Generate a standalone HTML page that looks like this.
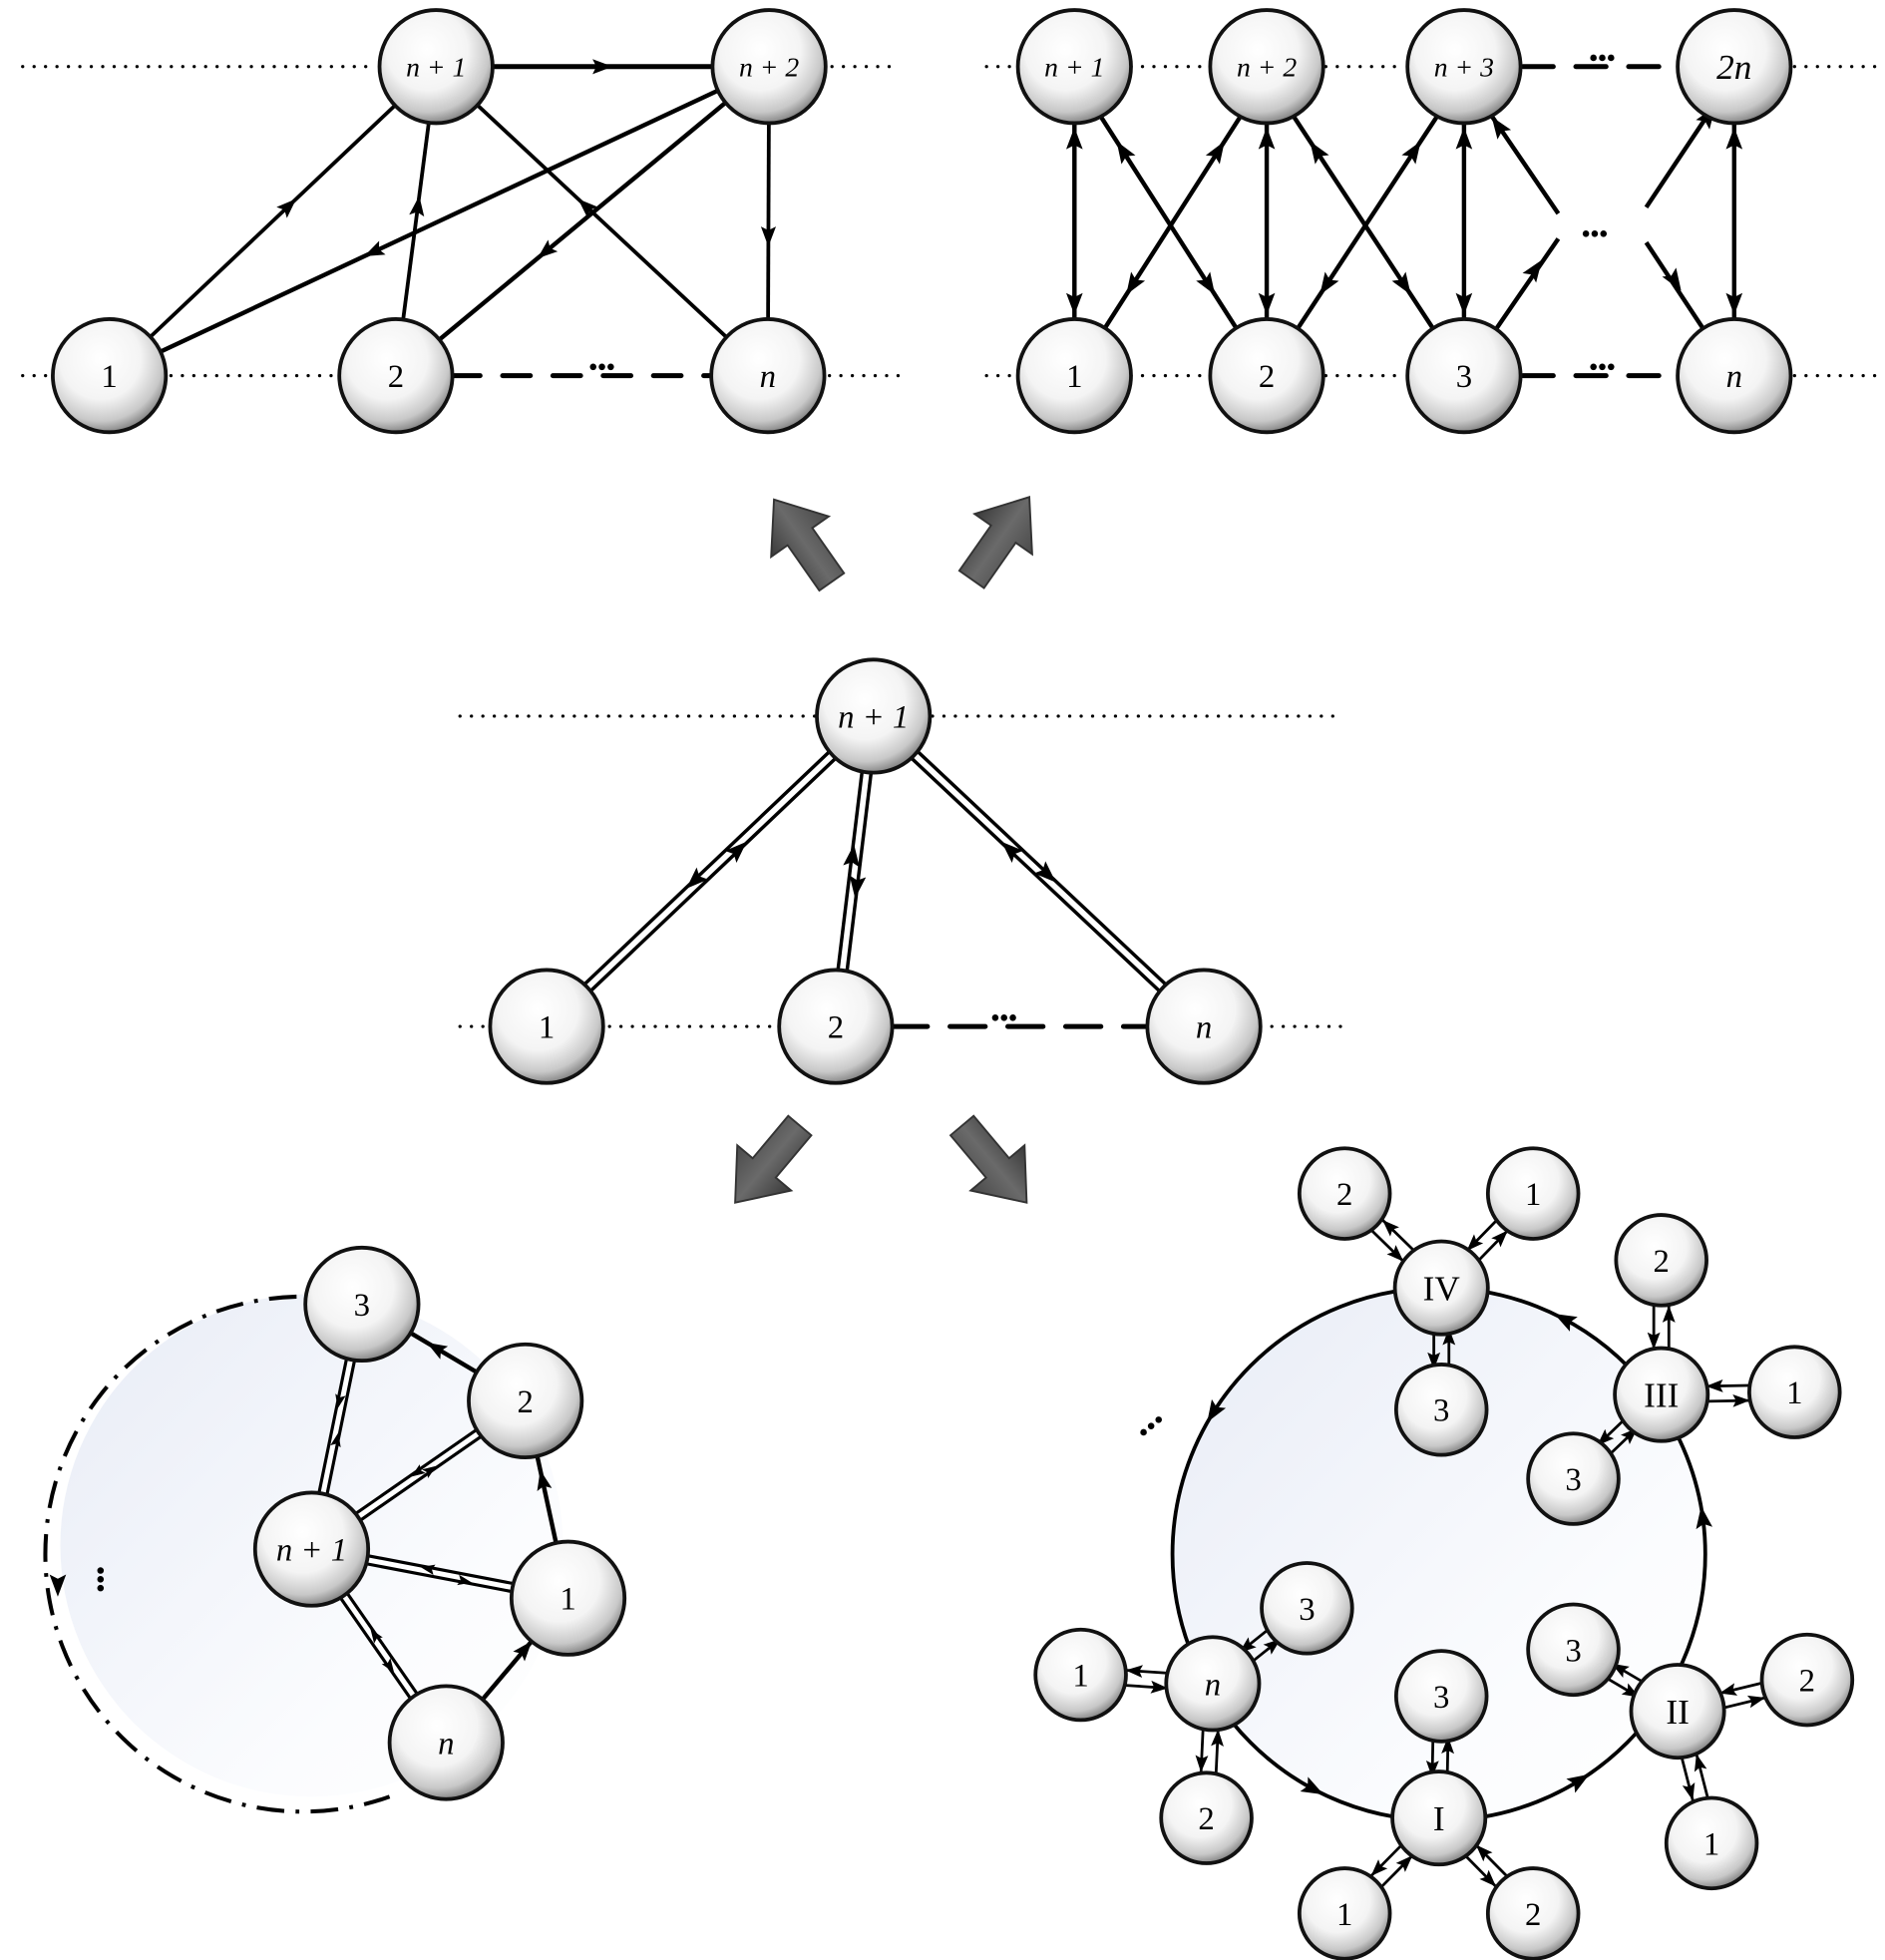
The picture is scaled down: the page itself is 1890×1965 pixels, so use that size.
<!DOCTYPE html>
<html><head><meta charset="utf-8"><style>
html,body{margin:0;padding:0;background:#fff;}
svg{display:block;}
text{font-family:"Liberation Serif",serif;}
</style></head><body>
<svg id="s" xmlns="http://www.w3.org/2000/svg" width="1890" height="1965" viewBox="0 0 1500 1560" preserveAspectRatio="none">
<defs>
<radialGradient id="ng" cx="0.42" cy="0.35" r="0.65">
<stop offset="0" stop-color="#ffffff"/><stop offset="0.55" stop-color="#f4f4f4"/><stop offset="0.85" stop-color="#c8c8c8"/><stop offset="1" stop-color="#8a8a8a"/>
</radialGradient>
<linearGradient id="bg" x1="0" y1="0" x2="1" y2="1">
<stop offset="0" stop-color="#e8ecf6"/><stop offset="0.7" stop-color="#fbfcfe"/><stop offset="1" stop-color="#ffffff"/>
</linearGradient>
<linearGradient id="fa" x1="0" y1="0" x2="1" y2="0">
<stop offset="0" stop-color="#3a3a3a"/><stop offset="0.5" stop-color="#6a6a6a"/><stop offset="1" stop-color="#4a4a4a"/>
</linearGradient>
</defs>
<g id="bgl"></g><g id="edges"></g><g id="nodes"></g>
</svg>
<script>
var NS="http://www.w3.org/2000/svg";
var E=document.getElementById('edges'),N=document.getElementById('nodes'),B=document.getElementById('bgl');
function el(p,t,a){var e=document.createElementNS(NS,t);for(var k in a)e.setAttribute(k,a[k]);p.appendChild(e);return e;}
function line(x1,y1,x2,y2,w,dash,g){return el(g||E,'line',{x1:x1,y1:y1,x2:x2,y2:y2,stroke:'#000','stroke-width':w||3,'stroke-dasharray':dash||'none','stroke-linecap':dash?'round':'butt'});}
function dots(x1,y,x2){line(x1,y,x2,y,2.5,'0.1 9');}
function head(x,y,ang,s,g){s=s||1;var L=16*s,W=6*s;el(g||E,'polygon',{points:(L/2)+',0 '+(-L/2)+','+(-W)+' '+(-L/2+3*s)+',0 '+(-L/2)+','+W,fill:'#000',transform:'translate('+x+','+y+') rotate('+ang+')'});}
function arr(x1,y1,x2,y2,t,w,s){line(x1,y1,x2,y2,w);var a=Math.atan2(y2-y1,x2-x1)*180/Math.PI;head(x1+(x2-x1)*t,y1+(y2-y1)*t,a,s);}
function node(x,y,r,lab,it,fs){el(N,'circle',{cx:x,cy:y,r:r,fill:'url(#ng)',stroke:'#111','stroke-width':3});var t=el(N,'text',{x:x,y:y+fs*0.35,'text-anchor':'middle','font-size':fs,'font-style':it?'italic':'normal'});t.textContent=lab;}
function ell(x,y){for(var i=0;i<3;i++)el(E,'circle',{cx:x+i*7,cy:y,r:2.6,fill:'#000'});}
function vell(x,y){for(var i=0;i<3;i++)el(E,'circle',{cx:x,cy:y+i*7,r:2.6,fill:'#000'});}
function dbl(x1,y1,x2,y2,off,t1,t2,s){var dx=x2-x1,dy=y2-y1,l=Math.hypot(dx,dy),nx=-dy/l*off,ny=dx/l*off;
arr(x1+nx,y1+ny,x2+nx,y2+ny,t1,2.2,s);arr(x2-nx,y2-ny,x1-nx,y1-ny,t2,2.2,s);}
function fat(x,y,ang){el(E,'polygon',{points:'0,-42 28,-6 12,-6 12,38 -12,38 -12,-6 -28,-6',fill:'url(#fa)',stroke:'#333','stroke-width':1.5,transform:'translate('+x+','+y+') rotate('+ang+')'});}
function dline(x1,y1,x2,y2,w1,w2){line(x1,y1,x2,y2,w1||10);line(x1,y1,x2,y2,w2||4.5).setAttribute('stroke','#fff');}
// heads on double line: first toward (x2,y2) at t1 on + side, second toward (x1,y1) at t2 on - side
function dheads(x1,y1,x2,y2,t1,t2,off,s){var dx=x2-x1,dy=y2-y1,l=Math.hypot(dx,dy),nx=-dy/l*off,ny=dx/l*off,a=Math.atan2(dy,dx)*180/Math.PI;
head(x1+dx*t1+nx,y1+dy*t1+ny,a,s);head(x1+dx*t2-nx,y1+dy*t2-ny,a+180,s);}

// ===== top-left =====
dots(18,53,300);dots(662,53,715);dots(18,299,42);dots(136,299,270);dots(660,299,722);
line(360,299,565,299,4,'22 18');ell(472,292);
arr(347,53,612,53,0.5,4);
arr(87,299,347,53,0.55,3);
arr(612,53,87,299,0.6,3.5);
arr(315,299,347,53,0.55,3);
arr(612,53,315,299,0.6,3.5);
arr(611,299,347,53,0.55,3);
arr(612,53,611,299,0.55,3);
node(347,53,45,'n + 1',true,22);node(612,53,45,'n + 2',true,22);
node(87,299,45,'1',false,26);node(315,299,45,'2',false,26);node(611,299,45,'n',true,26);

// ===== top-right =====
dots(785,53,810);dots(900,53,962);dots(1055,53,1118);dots(1428,53,1495);
dots(785,299,810);dots(900,299,962);dots(1055,299,1118);dots(1428,299,1495);
line(1212,53,1335,53,4,'24 18');ell(1268,46);
line(1212,299,1335,299,4,'24 18');ell(1268,292);
var T=[855,1008,1165,1380];
[0,1,2,3].forEach(function(i){var x=T[i];line(x,98,x,254,3.5);head(x,110,-90,1.1);head(x,242,90,1.1);});
function cross(x1,y1,x2,y2){line(x1,y1,x2,y2,3.5);var a=Math.atan2(y2-y1,x2-x1)*180/Math.PI;head(x1+(x2-x1)*0.25,y1+(y2-y1)*0.25,a+180,1.1);head(x1+(x2-x1)*0.7,y1+(y2-y1)*0.7,a,1.1);}
cross(855,60,1008,299);cross(1008,60,855,299);cross(1008,60,1165,299);cross(1165,60,1008,299);
line(1165,60,1240,170,3.5);head(1192,100,-125,1.1);
line(1165,299,1240,190,3.5);head(1222,214,-55,1.1);
line(1380,60,1310,165,3.5);head(1360,92,-55,1.1);
line(1380,299,1310,193,3.5);head(1333,224,57,1.1);
ell(1262,186);
node(855,53,45,'n + 1',true,22);node(1008,53,45,'n + 2',true,22);node(1165,53,45,'n + 3',true,22);node(1380,53,45,'2n',true,28);
node(855,299,45,'1',false,26);node(1008,299,45,'2',false,26);node(1165,299,45,'3',false,26);node(1380,299,45,'n',true,26);

// fat arrows
fat(640,432,-35);fat(795,430,35);fat(612,925,-140);fat(790,925,140);

// ===== middle =====
dots(366,570,650);dots(742,570,1065);dots(366,817,390);dots(485,817,615);dots(1012,817,1070);
line(710,817,915,817,4,'28 18');ell(792,810);
dline(435,817,695,570);dline(665,817,695,570);dline(958,817,695,570);
dheads(435,817,695,570,0.58,0.46,3,1.1);
dheads(665,817,695,570,0.55,0.45,-3,1.1);
dheads(958,817,695,570,0.58,0.48,-3,1.1);
node(695,570,45,'n + 1',true,26);
node(435,817,45,'1',false,26);node(665,817,45,'2',false,26);node(958,817,45,'n',true,26);

// ===== bottom-left =====
el(B,'circle',{cx:248,cy:1230,r:200,fill:'url(#bg)'});
el(E,'path',{d:'M 236 1032 A 205 205 0 1 0 310 1430',fill:'none',stroke:'#000','stroke-width':3.2,'stroke-dasharray':'22 9 3 9'});
head(46,1262,90,1.1);vell(80,1250);
function dline2(x1,y1,x2,y2,t1,t2){dline(x1,y1,x2,y2,9,4);dheads(x1,y1,x2,y2,t1,t2,2.2,0.7);}
dline2(248,1233,288,1038,0.45,0.6);
dline2(248,1233,418,1115,0.55,0.5);
dline2(452,1272,248,1233,0.55,0.4);
dline2(355,1387,248,1233,0.55,0.4);
arr(418,1115,288,1038,0.55,3.5);
arr(452,1272,418,1115,0.6,3.5);
arr(355,1387,452,1272,0.65,3.5);
node(288,1038,45,'3',false,26);node(418,1115,45,'2',false,26);node(248,1233,45,'n + 1',true,26);
node(452,1272,45,'1',false,26);node(355,1387,45,'n',true,26);

// ===== bottom-right =====
var cx=1145,cy=1237,R=212;
el(B,'circle',{cx:cx,cy:cy,r:R,fill:'url(#bg)'});
el(E,'circle',{cx:cx,cy:cy,r:R,fill:'none',stroke:'#000','stroke-width':3});
function ch(ang,dir){var a=ang*Math.PI/180;head(cx+R*Math.cos(a),cy+R*Math.sin(a),ang+90*dir,1.1);}
ch(-62,-1);ch(-148,-1);ch(118,-1);ch(58,-1);ch(-8,-1);
for(var i=0;i<3;i++)el(E,'circle',{cx:910+i*6,cy:1140-i*5,r:2.6,fill:'#000'});
var hubs=[['IV',1147,1025],['III',1322,1110],['II',1335,1362],['I',1145,1447],['n',965,1340]];
var leaves=[[0,'2',1070,950],[0,'1',1220,950],[0,'3',1147,1122],[1,'2',1322,1003],[1,'1',1428,1108],[1,'3',1252,1177],
[2,'3',1252,1313],[2,'2',1438,1337],[2,'1',1362,1467],[3,'3',1147,1350],[3,'1',1070,1523],[3,'2',1220,1523],
[4,'1',860,1333],[4,'3',1040,1280],[4,'2',960,1447]];
leaves.forEach(function(l){var h=hubs[l[0]];dbl(h[1],h[2],l[2],l[3],6,0.6,0.6,0.85);});
leaves.forEach(function(l){node(l[2],l[3],36,l[1],false,26);});
hubs.forEach(function(h){node(h[1],h[2],37,h[0],h[0]=='n',h[0]=='n'?26:28);});
</script>
</body></html>
